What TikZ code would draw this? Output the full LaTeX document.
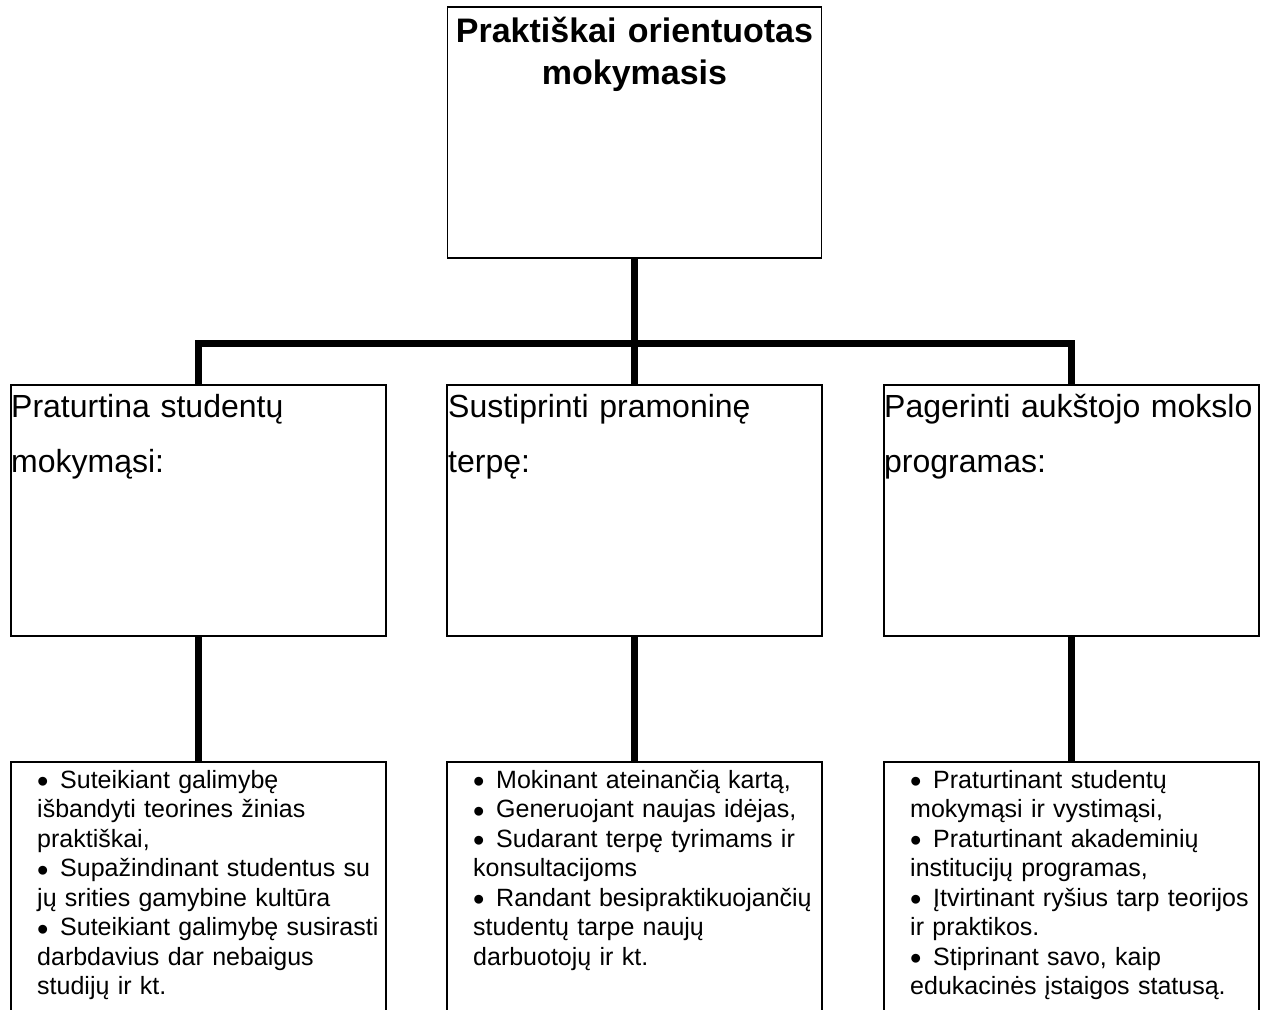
\documentclass[tikz,border=0pt]{standalone}
\usepackage{graphicx}
\usepackage{fontspec}
\setmainfont{Liberation Sans}
\newcommand{\mybul}{\makebox[23pt][l]{\raisebox{-4.4pt}{\scalebox{1.3}{•}}}}
\begin{document}
\begin{tikzpicture}[x=1pt,y=-1pt,
  box/.style={draw, line width=1.2pt, inner sep=0pt, minimum width=375pt},
  conn/.style={line width=6.5pt},
  titletxt/.style={anchor=north, inner sep=0pt, text width=374pt, align=center, font=\fontsize{34}{42}\selectfont\bfseries},
  midtxt/.style={anchor=north west, inner sep=0pt, text width=372pt, align=left, font=\fontsize{32}{55}\selectfont},
  bottxt/.style={anchor=north west, inner sep=0pt, text width=360pt, align=left, font=\fontsize{25}{29.5}\selectfont}]
\clip (0,0) rectangle (1262,1010);
\fill[white] (0,0) rectangle (1262,1010);
% boxes
\node[box, minimum width=374pt, minimum height=251pt] (top) at (634.5,132.5) {};
\node[box, minimum height=251pt] (m1) at (198.5,510.5) {};
\node[box, minimum height=251pt] (m2) at (634.5,510.5) {};
\node[box, minimum height=251pt] (m3) at (1071.5,510.5) {};
\node[box, minimum height=258pt] (b1) at (198.5,891) {};
\node[box, minimum height=258pt] (b2) at (634.5,891) {};
\node[box, minimum height=258pt] (b3) at (1071.5,891) {};
% connectors
\coordinate (bar) at (634.5,343.5);
\draw[conn] (top.south) -- (m2.north);
\draw[conn] (m1.north) |- (bar) -| (m3.north);
\draw[conn] (m1.south) -- (b1.north);
\draw[conn] (m2.south) -- (b2.north);
\draw[conn] (m3.south) -- (b3.north);
% texts
\node[titletxt] (ttl) at (634.5,12.6) {\strut Praktiškai orientuotas\\mokymasis};
\node[midtxt] (t1) at (11,378.5) {\strut Praturtina studentų\\mokymąsi:};
\node[midtxt] (t2) at (448,378.5) {\strut Sustiprinti pramoninę\\terpę:};
\node[midtxt] (t3) at (884,378.5) {\strut Pagerinti aukštojo mokslo\\programas:};
\node[bottxt] (l1) at (37,767.35) {\strut\mybul Suteikiant galimybę\\
išbandyti teorines žinias\\
praktiškai,\\
\mybul Supažindinant studentus su\\
jų srities gamybine kultūra\\
\mybul Suteikiant galimybę susirasti\\
darbdavius dar nebaigus\\
studijų ir kt.};
\node[bottxt] (l2) at (473,767.35) {\strut\mybul Mokinant ateinančią kartą,\\
\mybul Generuojant naujas idėjas,\\
\mybul Sudarant terpę tyrimams ir\\
konsultacijoms\\
\mybul Randant besipraktikuojančių\\
studentų tarpe naujų\\
darbuotojų ir kt.};
\node[bottxt] (l3) at (910,767.35) {\strut\mybul Praturtinant studentų\\
mokymąsi ir vystimąsi,\\
\mybul Praturtinant akademinių\\
institucijų programas,\\
\mybul Įtvirtinant ryšius tarp teorijos\\
ir praktikos.\\
\mybul Stiprinant savo, kaip\\
edukacinės įstaigos statusą.};
\end{tikzpicture}
\end{document}
